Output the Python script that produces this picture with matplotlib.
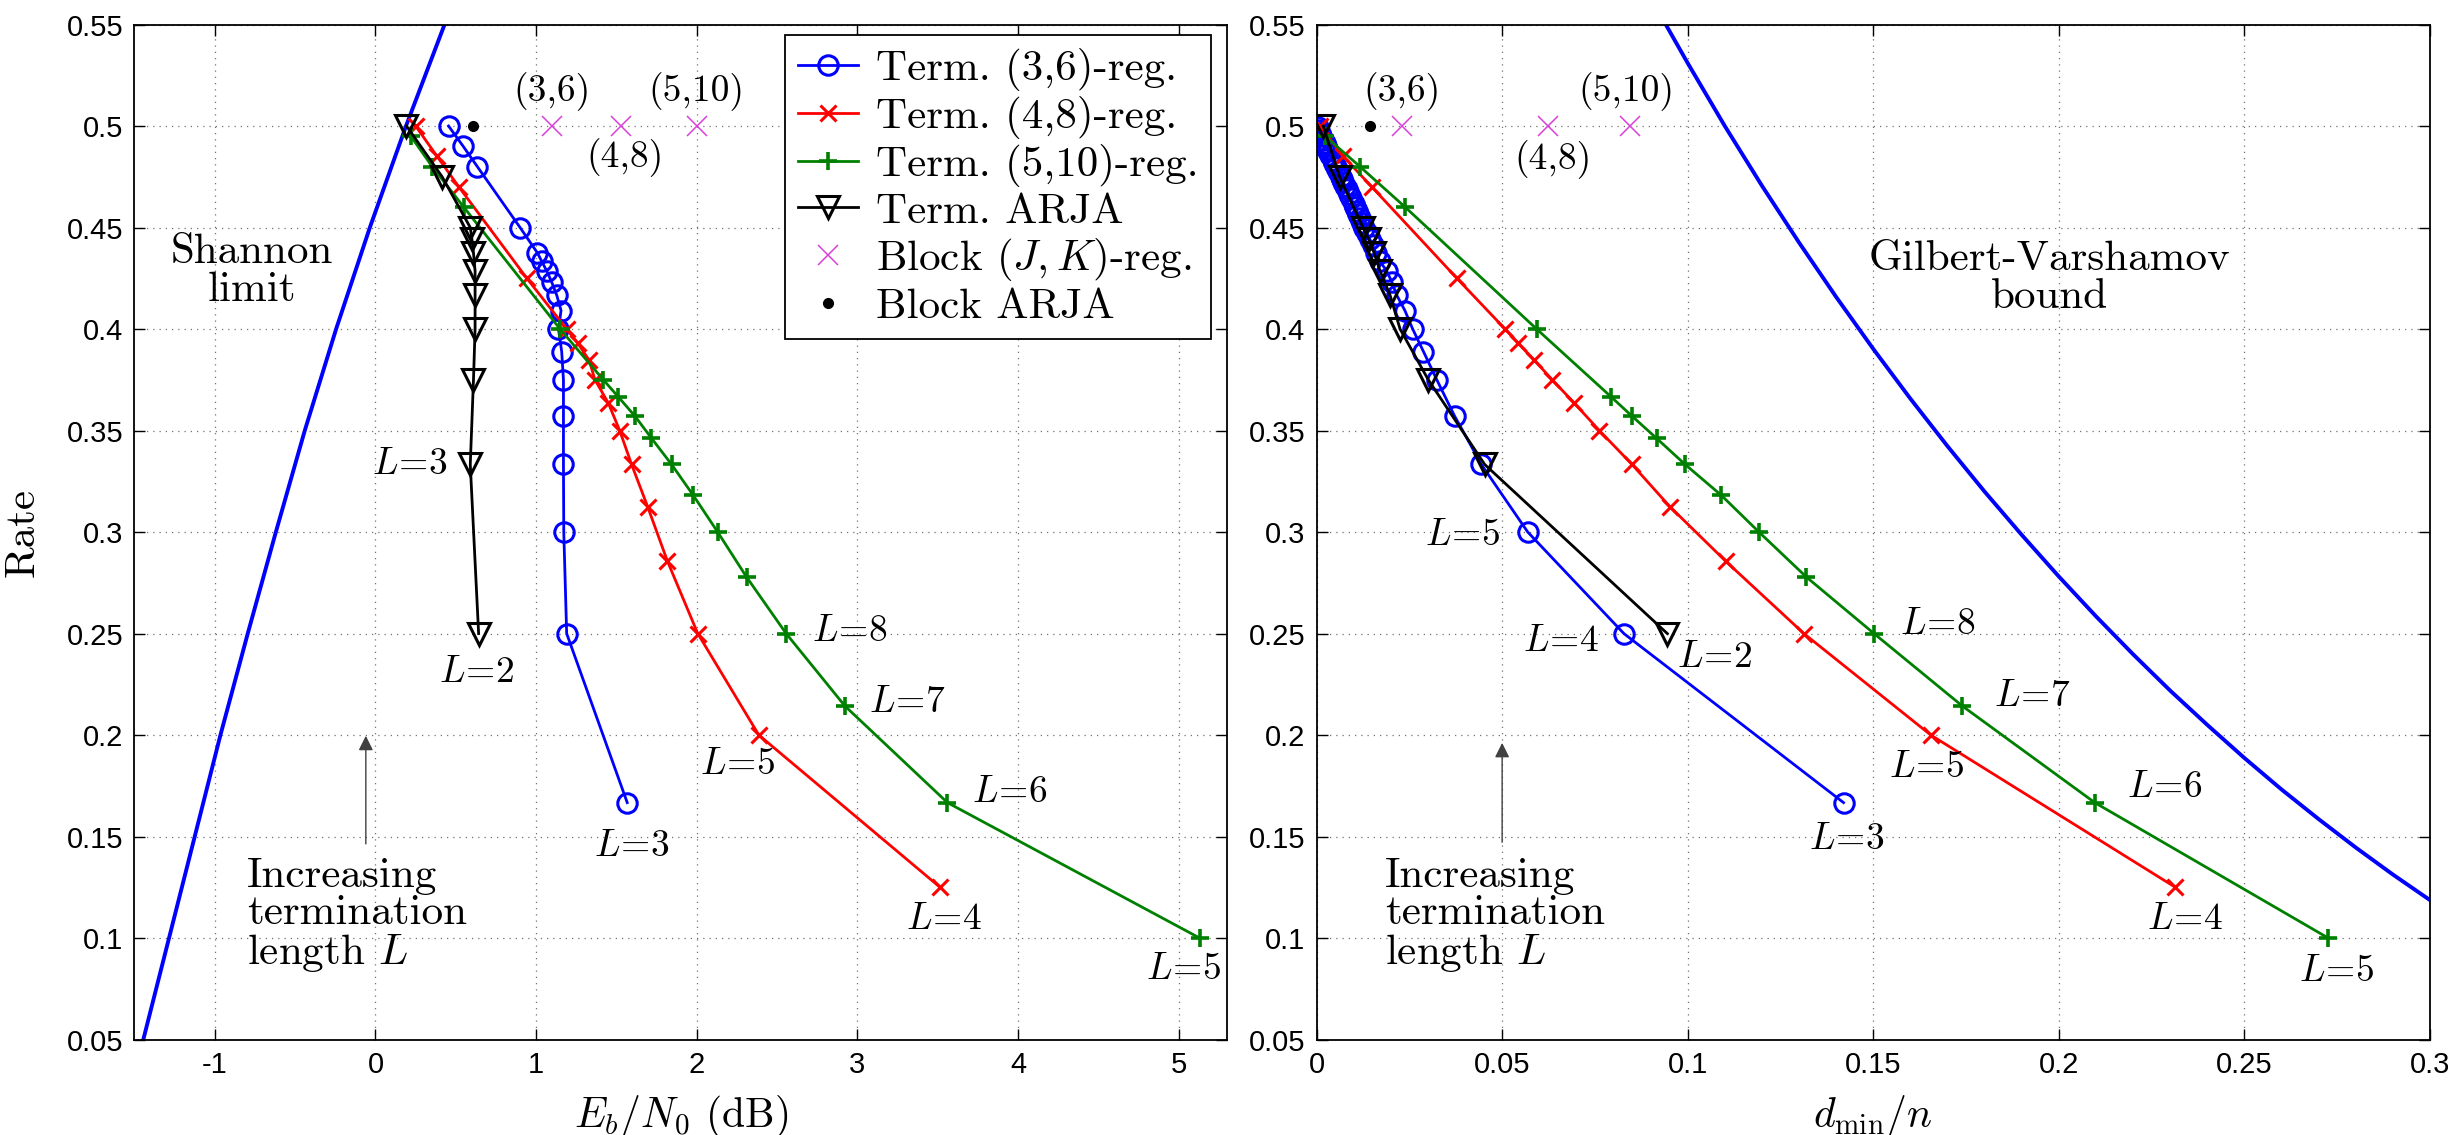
import numpy as np
import matplotlib
matplotlib.use('Agg')
import matplotlib.pyplot as plt
from matplotlib.lines import Line2D

plt.rcParams['mathtext.fontset'] = 'cm'
plt.rcParams['font.family'] = ['cmr10', 'DejaVu Sans']
plt.rcParams['axes.unicode_minus'] = False
plt.rcParams['axes.formatter.use_mathtext'] = True

# ---------------- data ----------------
# Shannon limit (BI-AWGN), Eb/N0 in dB vs rate
shannon_db = [-1.445, -1.285, -1.125, -0.965, -0.795, -0.62, -0.44, -0.245, -0.035, 0.19, 0.43]
shannon_rate = [0.05, 0.10, 0.15, 0.20, 0.25, 0.30, 0.35, 0.40, 0.45, 0.50, 0.55]

# Gilbert-Varshamov bound, dmin/n vs rate
gv_d = [0.094, 0.10, 0.11, 0.12, 0.13, 0.14, 0.15, 0.16, 0.17, 0.18, 0.19, 0.20,
        0.21, 0.22, 0.23, 0.24, 0.25, 0.26, 0.27, 0.28, 0.29, 0.30]
gv_rate = [0.5503, 0.531, 0.500, 0.4706, 0.4426, 0.4158, 0.3902, 0.3657, 0.3423,
           0.3199, 0.2986, 0.2781, 0.2585, 0.2398, 0.2219, 0.2050, 0.1887, 0.1732,
           0.1586, 0.1446, 0.1313, 0.1187]

# terminated (3,6)-regular, thresholds
ebn0_36 = [0.455, 0.546, 0.634, 0.90, 1.008, 1.035, 1.066, 1.097, 1.128, 1.155,
           1.139, 1.159, 1.17, 1.17, 1.17, 1.172, 1.19, 1.567]
rate_36 = [0.5, 0.49, 0.48, 0.45, 0.4375, 0.4333, 0.4286, 0.4231, 0.4167, 0.4091,
           0.40, 0.3889, 0.375, 0.3571, 0.3333, 0.30, 0.25, 0.1667]

# terminated (3,6)-regular, distance (many termination lengths)
dmin_36 = [0.0003, 0.0005, 0.0009, 0.0013, 0.0017, 0.0022, 0.0026, 0.0029, 0.0032,
           0.0037, 0.0043, 0.0047, 0.0052, 0.0058, 0.0065, 0.0069, 0.0072, 0.0077,
           0.0081, 0.0087, 0.0093, 0.0100, 0.0104, 0.0108, 0.0112, 0.0117, 0.0123,
           0.0129, 0.0136, 0.0143, 0.0151, 0.0160, 0.0171, 0.0189, 0.0203, 0.0216,
           0.0238, 0.0259, 0.0288, 0.0324, 0.0372, 0.0444, 0.0569, 0.0828, 0.142]
rate_36_d = [0.4995, 0.498, 0.4967, 0.495, 0.4933, 0.4917, 0.49, 0.4889, 0.4875,
             0.4857, 0.4833, 0.4818, 0.48, 0.4778, 0.475, 0.4737, 0.4722, 0.4706,
             0.4688, 0.4667, 0.4643, 0.4615, 0.46, 0.4583, 0.4565, 0.4545, 0.4524,
             0.45, 0.4474, 0.4444, 0.4412, 0.4375, 0.4333, 0.4286, 0.4231, 0.4167,
             0.4091, 0.40, 0.3889, 0.375, 0.3571, 0.3333, 0.30, 0.25, 0.1667]

# terminated (4,8)-regular
ebn0_48 = [0.25, 0.384, 0.519, 0.942, 1.19, 1.26, 1.33, 1.366, 1.449, 1.52, 1.594,
           1.694, 1.817, 2.006, 2.386, 3.514]
dmin_48 = [0.0010, 0.0072, 0.0149, 0.0378, 0.0508, 0.0544, 0.0587, 0.0635, 0.0694,
           0.0762, 0.0850, 0.0952, 0.1102, 0.1313, 0.1655, 0.2314]
rate_48 = [0.5, 0.485, 0.47, 0.425, 0.40, 0.3929, 0.3846, 0.375, 0.3636, 0.35,
           0.3333, 0.3125, 0.2857, 0.25, 0.2, 0.125]

# terminated (5,10)-regular
ebn0_510 = [0.22, 0.353, 0.55, 1.149, 1.418, 1.51, 1.615, 1.718, 1.843, 1.977,
            2.13, 2.31, 2.556, 2.922, 3.56, 5.13]
rate_510 = [0.495, 0.48, 0.46, 0.40, 0.375, 0.3667, 0.3571, 0.3462, 0.3333, 0.3182,
            0.30, 0.2778, 0.25, 0.2143, 0.1667, 0.10]
dmin_510 = [0.0023, 0.0117, 0.0239, 0.0593, 0.0793, 0.085, 0.0916, 0.0993, 0.109,
            0.1192, 0.132, 0.1502, 0.174, 0.2097, 0.2726]
rate_510_d = [0.495, 0.48, 0.46, 0.40, 0.3667, 0.3571, 0.3462, 0.3333, 0.3182,
              0.30, 0.2778, 0.25, 0.2143, 0.1667, 0.10]

# terminated ARJA
ebn0_arja = [0.193, 0.415, 0.59, 0.60, 0.61, 0.62, 0.62, 0.62, 0.61, 0.59, 0.642]
dmin_arja = [0.0018, 0.0062, 0.0125, 0.0140, 0.0155, 0.0171, 0.0198, 0.0225,
             0.0301, 0.0453, 0.0945]
rate_arja = [0.5, 0.475, 0.45, 0.4444, 0.4375, 0.4286, 0.4167, 0.40, 0.375,
             0.3333, 0.25]

# block codes at rate 1/2
block_names = ['(3,6)', '(4,8)', '(5,10)']
block_ebn0 = [1.10, 1.53, 2.0]
block_dmin = [0.0229, 0.0624, 0.0845]
block_rate = [0.5, 0.5, 0.5]
arja_block_ebn0 = [0.61]
arja_block_dmin = [0.0144]
arja_block_rate = [0.5]

yticks = [0.05, 0.1, 0.15, 0.2, 0.25, 0.3, 0.35, 0.4, 0.45, 0.5, 0.55]
xticks_left = [-1, 0, 1, 2, 3, 4, 5]
xticks_right = [0, 0.05, 0.1, 0.15, 0.2, 0.25, 0.3]

# ---------------- figure ----------------
fig = plt.figure(figsize=(24.54, 11.35), dpi=100)
ax1 = fig.add_axes([0.0548, 0.0841, 0.4452, 0.8943])
ax2 = fig.add_axes([0.5365, 0.0841, 0.4537, 0.8943])

TICKFONT = dict(family='Liberation Sans', size=21)
LFS = 27
BLUE, RED, GREEN, MAG = (0, 0, 1), (1, 0, 0), (0, 0.5, 0), (0.85, 0.25, 0.85)

sty36 = dict(color=BLUE, marker='o', ms=14, mfc='none', mew=2.2, lw=2.0)
sty48 = dict(color=RED, marker='x', ms=11, mew=2.2, lw=2.0)
sty510 = dict(color=GREEN, marker='+', ms=13, mew=2.6, lw=2.0)
styarja = dict(color='k', marker='v', ms=16, mfc='none', mew=2.2, lw=2.0)
styblk = dict(color=MAG, marker='x', ms=15, mew=1.1, ls='none')
styblka = dict(color='k', marker='o', ms=7, ls='none')


def style_axes(ax, xticks, xlim):
    ax.set_xlim(*xlim)
    ax.set_ylim(0.05, 0.55)
    ax.set_xticks(xticks)
    ax.set_yticks(yticks)
    ax.set_xticklabels(['%g' % t for t in xticks], **TICKFONT)
    ax.set_yticklabels(['%g' % t for t in yticks], **TICKFONT)
    ax.tick_params(direction='in', top=True, right=True, length=8, width=1, pad=8)
    ax.grid(True, ls=(0, (1, 4)), color='0.45', lw=0.9)
    for s in ax.spines.values():
        s.set_linewidth(1.3)


# left: thresholds
ax1.plot(shannon_db, shannon_rate, color=BLUE, lw=2.8)
ax1.plot(ebn0_36, rate_36, **sty36)
ax1.plot(ebn0_48, rate_48, **sty48)
ax1.plot(ebn0_510, rate_510, **sty510)
ax1.plot(ebn0_arja, rate_arja, **styarja)
ax1.plot(block_ebn0, block_rate, **styblk)
ax1.plot(arja_block_ebn0, arja_block_rate, **styblka)
style_axes(ax1, xticks_left, (-1.5, 5.3))
ax1.set_xlabel(r'$E_b/N_0$ (dB)', fontsize=30, labelpad=10)
ax1.set_ylabel('Rate', fontsize=31, labelpad=18)

ax1.text(1.10, 0.517, block_names[0], fontsize=LFS, ha='center', va='center')
ax1.text(1.553, 0.4845, block_names[1], fontsize=LFS, ha='center', va='center')
ax1.text(2.0, 0.517, block_names[2], fontsize=LFS, ha='center', va='center')
for txt, x, y in [(r'$L\!=\!3$', 0.215, 0.3334), (r'$L\!=\!2$', 0.63, 0.231),
                  (r'$L\!=\!3$', 1.594, 0.1454), (r'$L\!=\!5$', 2.258, 0.1856),
                  (r'$L\!=\!4$', 3.539, 0.109), (r'$L\!=\!8$', 2.955, 0.251),
                  (r'$L\!=\!7$', 3.31, 0.2159), (r'$L\!=\!6$', 3.947, 0.172),
                  (r'$L\!=\!5$', 5.03, 0.0844)]:
    ax1.text(x, y, txt, fontsize=LFS, ha='center', va='center')
ax1.text(-0.77, 0.4285, 'Shannon\nlimit', fontsize=31, ha='center', va='center',
         linespacing=1.0)
ax1.text(-0.80, 0.111, 'Increasing\ntermination\nlength $L$', fontsize=31,
         ha='left', va='center', linespacing=1.0)
ax1.annotate('', xy=(-0.06, 0.201), xytext=(-0.06, 0.145),
             arrowprops=dict(arrowstyle='-|>', color='0.25', lw=1.0, mutation_scale=22))

# right: distances
ax2.plot(gv_d, gv_rate, color=BLUE, lw=2.8)
ax2.plot(dmin_36, rate_36_d, **sty36)
ax2.plot(dmin_48, rate_48, **sty48)
ax2.plot(dmin_510, rate_510_d, **sty510)
ax2.plot(dmin_arja, rate_arja, **styarja)
ax2.plot(block_dmin, block_rate, **styblk)
ax2.plot(arja_block_dmin, arja_block_rate, **styblka)
style_axes(ax2, xticks_right, (0, 0.3))
ax2.set_xlabel(r'$d_{\min}/n$', fontsize=30, labelpad=10)

ax2.text(0.0229, 0.517, block_names[0], fontsize=LFS, ha='center', va='center')
ax2.text(0.0638, 0.4833, block_names[1], fontsize=LFS, ha='center', va='center')
ax2.text(0.0836, 0.517, block_names[2], fontsize=LFS, ha='center', va='center')
for txt, x, y in [(r'$L\!=\!5$', 0.0394, 0.2983), (r'$L\!=\!4$', 0.066, 0.246),
                  (r'$L\!=\!2$', 0.1074, 0.2384), (r'$L\!=\!3$', 0.143, 0.1484),
                  (r'$L\!=\!5$', 0.1644, 0.1841), (r'$L\!=\!4$', 0.234, 0.109),
                  (r'$L\!=\!8$', 0.1674, 0.2543), (r'$L\!=\!7$', 0.1929, 0.219),
                  (r'$L\!=\!6$', 0.2285, 0.174), (r'$L\!=\!5$', 0.275, 0.0838)]:
    ax2.text(x, y, txt, fontsize=LFS, ha='center', va='center')
ax2.text(0.1976, 0.425, 'Gilbert-Varshamov\nbound', fontsize=31, ha='center',
         va='center', linespacing=1.0)
ax2.text(0.0185, 0.111, 'Increasing\ntermination\nlength $L$', fontsize=31,
         ha='left', va='center', linespacing=1.0)
ax2.annotate('', xy=(0.05, 0.1975), xytext=(0.05, 0.1458),
             arrowprops=dict(arrowstyle='-|>', color='0.25', lw=1.0, mutation_scale=22))

# legend on the left panel
handles = [Line2D([], [], **sty36), Line2D([], [], **sty48), Line2D([], [], **sty510),
           Line2D([], [], **styarja), Line2D([], [], **styblk), Line2D([], [], **styblka)]
labels = ['Term. (3,6)-reg.', 'Term. (4,8)-reg.', 'Term. (5,10)-reg.', 'Term. ARJA',
          'Block $(J,K)$-reg.', 'Block ARJA']
leg = ax1.legend(handles, labels, loc='upper right', bbox_to_anchor=(0.9854, 0.9897),
                 borderaxespad=0, fontsize=31, handlelength=1.4, handletextpad=0.4,
                 labelspacing=0.12, borderpad=0.3, fancybox=False, framealpha=1,
                 edgecolor='k')
leg.get_frame().set_linewidth(1.3)

fig.savefig('out.png', dpi=100)
